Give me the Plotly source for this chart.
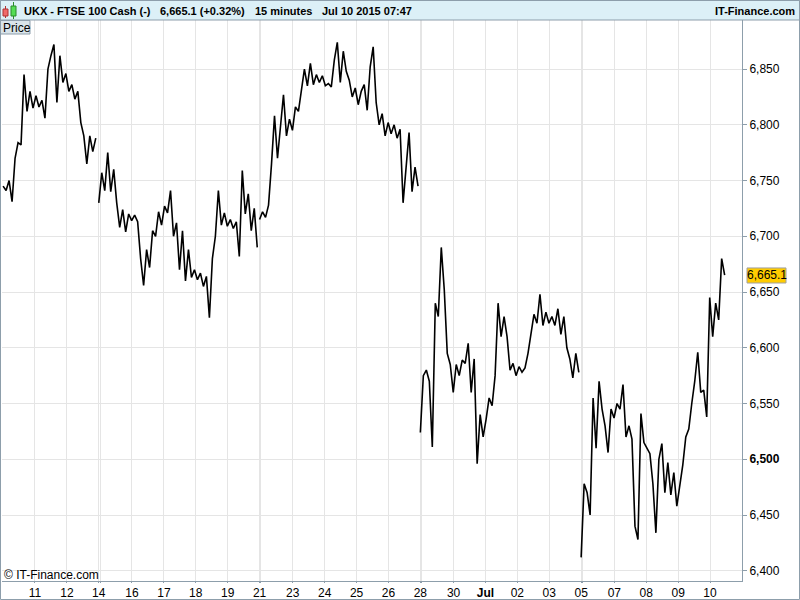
import plotly.graph_objects as go

# ---------------- data (15-minute bars, x = bar index, 96 bars per session day) ----------------
STEP = 9  # bars between read points
week_starts = [0, 288, 772, 1256, 1740]

wk1 = [6745, 6741, 6750, 6731, 6770, 6784, 6782, 6845, 6812, 6830, 6815, 6826, 6816, 6822,
       6806, 6850, 6862, 6872, 6820, 6862, 6838, 6846, 6830, 6836, 6823, 6830, 6802, 6790,
       6765, 6790, 6776, 6788]
wk2 = [6730, 6757, 6741, 6775, 6740, 6760, 6730, 6708, 6724, 6704, 6720, 6714, 6719, 6713,
       6680, 6656, 6688, 6672, 6705, 6700, 6722, 6710, 6727, 6721, 6741, 6700, 6712, 6670,
       6705, 6660, 6688, 6663, 6670, 6661, 6667, 6655, 6664, 6627, 6680, 6700, 6741, 6710,
       6721, 6709, 6715, 6707, 6713, 6682, 6759, 6720, 6738, 6705, 6725, 6690]
wk3 = [6715, 6722, 6717, 6728, 6765, 6808, 6770, 6800, 6827, 6790, 6805, 6795, 6816, 6812,
       6830, 6850, 6835, 6855, 6836, 6845, 6838, 6844, 6835, 6837, 6834, 6858, 6874, 6838,
       6866, 6848, 6840, 6825, 6833, 6818, 6830, 6836, 6813, 6852, 6870, 6820, 6800, 6810,
       6790, 6802, 6792, 6800, 6788, 6796, 6730, 6760, 6793, 6740, 6762, 6745]
wk4 = [6524, 6575, 6580, 6570, 6511, 6640, 6628, 6690, 6652, 6595, 6585, 6560, 6585, 6575,
       6589, 6586, 6604, 6560, 6590, 6496, 6540, 6520, 6536, 6555, 6548, 6575, 6640, 6610,
       6628, 6610, 6580, 6586, 6575, 6583, 6578, 6582, 6595, 6615, 6630, 6622, 6648, 6620,
       6632, 6622, 6628, 6620, 6635, 6612, 6628, 6600, 6590, 6573, 6595, 6578]
wk5 = [6412, 6478, 6470, 6450, 6555, 6510, 6570, 6545, 6530, 6506, 6545, 6537, 6550, 6545,
       6567, 6520, 6530, 6518, 6440, 6428, 6541, 6515, 6510, 6505, 6478, 6434, 6500, 6514,
       6470, 6497, 6468, 6488, 6458, 6475, 6495, 6520, 6527, 6550, 6570, 6596, 6560, 6562,
       6538, 6645, 6610, 6640, 6625, 6680, 6665.1]
weeks = [wk1, wk2, wk3, wk4, wk5]

last_price = 6665.1

x_tick_bars = [96, 192, 288, 292, 388, 484, 580, 676, 772, 776, 872, 968, 1064, 1160,
               1256, 1260, 1356, 1452, 1548, 1644, 1740, 1744, 1840, 1936, 2032, 2128]
x_tick_text = ['11', '12', '14', '', '16', '17', '18', '19', '21', '', '23', '24', '25', '26',
               '28', '', '30', '<b>Jul</b>', '02', '03', '05', '', '07', '08', '09', '10']
y_tick_vals = [6400, 6450, 6500, 6550, 6600, 6650, 6700, 6750, 6800, 6850]
y_tick_text = ['6,400', '6,450', '<b>6,500</b>', '6,550', '6,600', '6,650', '6,700',
               '6,750', '6,800', '6,850']

# ---------------- build series ----------------
xs, ys = [], []
for start, vals in zip(week_starts, weeks):
    for i, v in enumerate(vals):
        xs.append(start + STEP * i)
        ys.append(v)
    xs.append(None)
    ys.append(None)

W, H = 800, 600
ML, MR, MT, MB = 2, 58, 20, 19
PW, PH = W - ML - MR, H - MT - MB


def px(x):
    return (x - ML) / PW


def py(y):
    return (H - MB - y) / PH


FONT = "Liberation Sans, Arial, sans-serif"
BORDER = "#8d9eab"

fig = go.Figure()
fig.add_trace(go.Scatter(x=xs, y=ys, mode="lines", line=dict(color="#000000", width=1.6),
                         connectgaps=False, hoverinfo="skip", showlegend=False))

shapes = []
# header bar
shapes.append(dict(type="rect", xref="paper", yref="paper", x0=px(0), x1=px(800), y0=py(20), y1=py(0),
                   fillcolor="#dcf0f7", line=dict(color=BORDER, width=1), layer="above"))
# candle icon
shapes += [
    dict(type="line", xref="paper", yref="paper", x0=px(5.5), x1=px(5.5), y0=py(18), y1=py(6), line=dict(color="#b03030", width=1)),
    dict(type="rect", xref="paper", yref="paper", x0=px(3), x1=px(8), y0=py(16), y1=py(9), fillcolor="#ef6a6a", line=dict(color="#b03030", width=1)),
    dict(type="line", xref="paper", yref="paper", x0=px(13.5), x1=px(13.5), y0=py(19), y1=py(2), line=dict(color="#2a8a2a", width=1)),
    dict(type="rect", xref="paper", yref="paper", x0=px(11), x1=px(16), y0=py(16), y1=py(6), fillcolor="#55dd55", line=dict(color="#2a8a2a", width=1)),
]
# Price label box
shapes.append(dict(type="rect", xref="paper", yref="paper", x0=px(0.5), x1=px(30), y0=py(34), y1=py(20.5),
                   fillcolor="#d9e4ea", line=dict(color=BORDER, width=1), layer="above"))
# price tag
tag_y = last_price
shapes.append(dict(type="rect", xref="paper", yref="y", x0=px(747), x1=px(786), y0=tag_y - 7.0, y1=tag_y + 6.5,
                   fillcolor="#ffcc00", line=dict(color="#a0a0a0", width=1), layer="above"))
# outer frame
shapes.append(dict(type="rect", xref="paper", yref="paper", x0=px(0.5), x1=px(799.5), y0=py(599.5), y1=py(0.5),
                   line=dict(color=BORDER, width=1), fillcolor="rgba(0,0,0,0)", layer="above"))

HF = dict(family=FONT, size=11, color="#000000")
annotations = [
    dict(text="<b>UKX - FTSE 100 Cash (-)</b>", x=px(22), y=py(10.5), xanchor="left", yanchor="middle", font=HF),
    dict(text="<b>6,665.1 (+0.32%)</b>", x=px(158), y=py(10.5), xanchor="left", yanchor="middle", font=HF),
    dict(text="<b>15 minutes</b>", x=px(253), y=py(10.5), xanchor="left", yanchor="middle", font=HF),
    dict(text="<b>Jul 10 2015 07:47</b>", x=px(320), y=py(10.5), xanchor="left", yanchor="middle", font=HF),
    dict(text="<b>IT-Finance.com</b>", x=px(797), y=py(10.5), xanchor="right", yanchor="middle", font=HF),
    dict(text="Price", x=px(1), y=py(27.5), xanchor="left", yanchor="middle",
         font=dict(family=FONT, size=12, color="#000000")),
    dict(text="© IT-Finance.com", x=px(2), y=py(575), xanchor="left", yanchor="middle",
         font=dict(family=FONT, size=12, color="#000000")),
]
for a in annotations:
    a.update(xref="paper", yref="paper", showarrow=False)
annotations.append(dict(text="6,665.1", xref="paper", yref="y", x=px(766.5), y=tag_y, showarrow=False,
                        xanchor="center", yanchor="middle", font=dict(family=FONT, size=12, color="#000000")))

fig.update_layout(
    width=W, height=H,
    margin=dict(l=ML, r=MR, t=MT, b=MB, pad=0, autoexpand=False),
    paper_bgcolor="#ffffff", plot_bgcolor="#ffffff",
    shapes=shapes, annotations=annotations,
    font=dict(family=FONT, size=12, color="#000000"),
    xaxis=dict(range=[-3.3, 2224.2], tickmode="array", tickvals=x_tick_bars, ticktext=x_tick_text,
               showgrid=True, gridcolor="#e5e5e5", gridwidth=1, zeroline=False,
               showline=True, linecolor=BORDER, linewidth=1, automargin=False,
               ticks="outside", ticklen=1, tickcolor=BORDER,
               tickfont=dict(family=FONT, size=12, color="#000000"), fixedrange=True),
    yaxis=dict(range=[6390.8, 6894.0], side="right", tickmode="array", tickvals=y_tick_vals,
               ticktext=y_tick_text, showgrid=True, gridcolor="#e5e5e5", gridwidth=1, zeroline=False,
               showline=True, linecolor=BORDER, linewidth=1, automargin=False,
               ticks="outside", ticklen=4, tickcolor=BORDER,
               tickfont=dict(family=FONT, size=12, color="#000000"), fixedrange=True),
)

fig.write_html(
    "out.html",
    config={"displayModeBar": False},
    post_script="document.body.style.margin='0';document.body.style.overflow='hidden';",
)
